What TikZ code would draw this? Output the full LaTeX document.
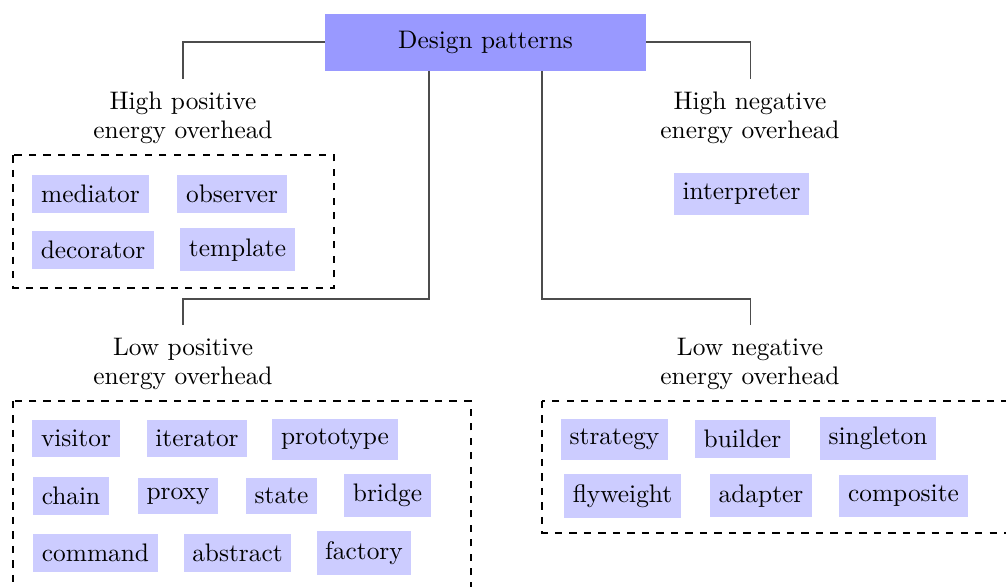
\documentclass[tikz,border=0pt]{standalone}
\begin{document}
\begin{tikzpicture}[x=0.414pt,y=-0.414pt,
  font=\fontsize{10.5}{12}\selectfont,
  rootbox/.style={fill=blue!40, minimum width=132.9pt, minimum height=23.6pt, inner sep=0pt},
  pat/.style={fill=blue!20, inner xsep=3.6pt, inner ysep=4.2pt},
  grp/.style={align=center, inner sep=0pt},
  conn/.style={draw=black!70, line width=0.45pt},
  dbox/.style={draw=black, thick, dashed}]
\useasboundingbox (0,0) rectangle (1006,587);
\node[rootbox] (root) at (485.5,42.3) {Design patterns};
% group labels
\node[grp] (hp) at (183,118) {High positive\\energy overhead};
\node[grp] (hn) at (750,118) {High negative\\energy overhead};
\node[grp] (lp) at (183,364) {Low positive\\energy overhead};
\node[grp] (ln) at (750,364) {Low negative\\energy overhead};
\coordinate (hptop) at (183,79.3);
\coordinate (hntop) at (750.5,79.3);
\coordinate (lptop) at (183,324.7);
\coordinate (lntop) at (750.5,324.7);
\coordinate (rootbl) at (429,71);
\coordinate (rootbr) at (542,71);
% connectors
\draw[conn] (root.west |- 0,42) -| (hptop);
\draw[conn] (root.east |- 0,42) -| (hntop);
\draw[conn] (rootbl) |- (0,299 -| lptop) -- (lptop);
\draw[conn] (rootbr) |- (0,299 -| lntop) -- (lntop);
% dashed groups
\draw[dbox] (13.3,155.3) rectangle (334.3,287.7);
\draw[dbox] (13.3,401) rectangle (470.7,600);
\draw[dbox] (542.3,401) rectangle (1020,533.3);
% high positive
\node[pat] (mediator) at (90.5,193.8) {mediator};
\node[pat] (observer) at (232,193.8) {observer};
\node[pat] (decorator) at (93,249.8) {decorator};
\node[pat] (template) at (237.5,249.8) {template};
% high negative
\node[pat] (interpreter) at (741.5,193.8) {interpreter};
% low positive
\node[pat] (visitor) at (76,438.8) {visitor};
\node[pat] (iterator) at (197,438.8) {iterator};
\node[pat] (prototype) at (335,439.3) {prototype};
\node[pat] (chain) at (71,496) {chain};
\node[pat] (proxy) at (178,496) {proxy};
\node[pat] (state) at (281.5,496) {state};
\node[pat] (bridge) at (387.5,495.8) {bridge};
\node[pat] (command) at (95.5,552.8) {command};
\node[pat] (abstract) at (237.5,552.8) {abstract};
\node[pat] (factory) at (364,553) {factory};
% low negative
\node[pat] (strategy) at (614.5,439.3) {strategy};
\node[pat] (builder) at (742.5,438.8) {builder};
\node[pat] (singleton) at (878,438.8) {singleton};
\node[pat] (flyweight) at (622.5,495.8) {flyweight};
\node[pat] (adapter) at (761,495.8) {adapter};
\node[pat] (composite) at (903.5,495.8) {composite};
\end{tikzpicture}
\end{document}
